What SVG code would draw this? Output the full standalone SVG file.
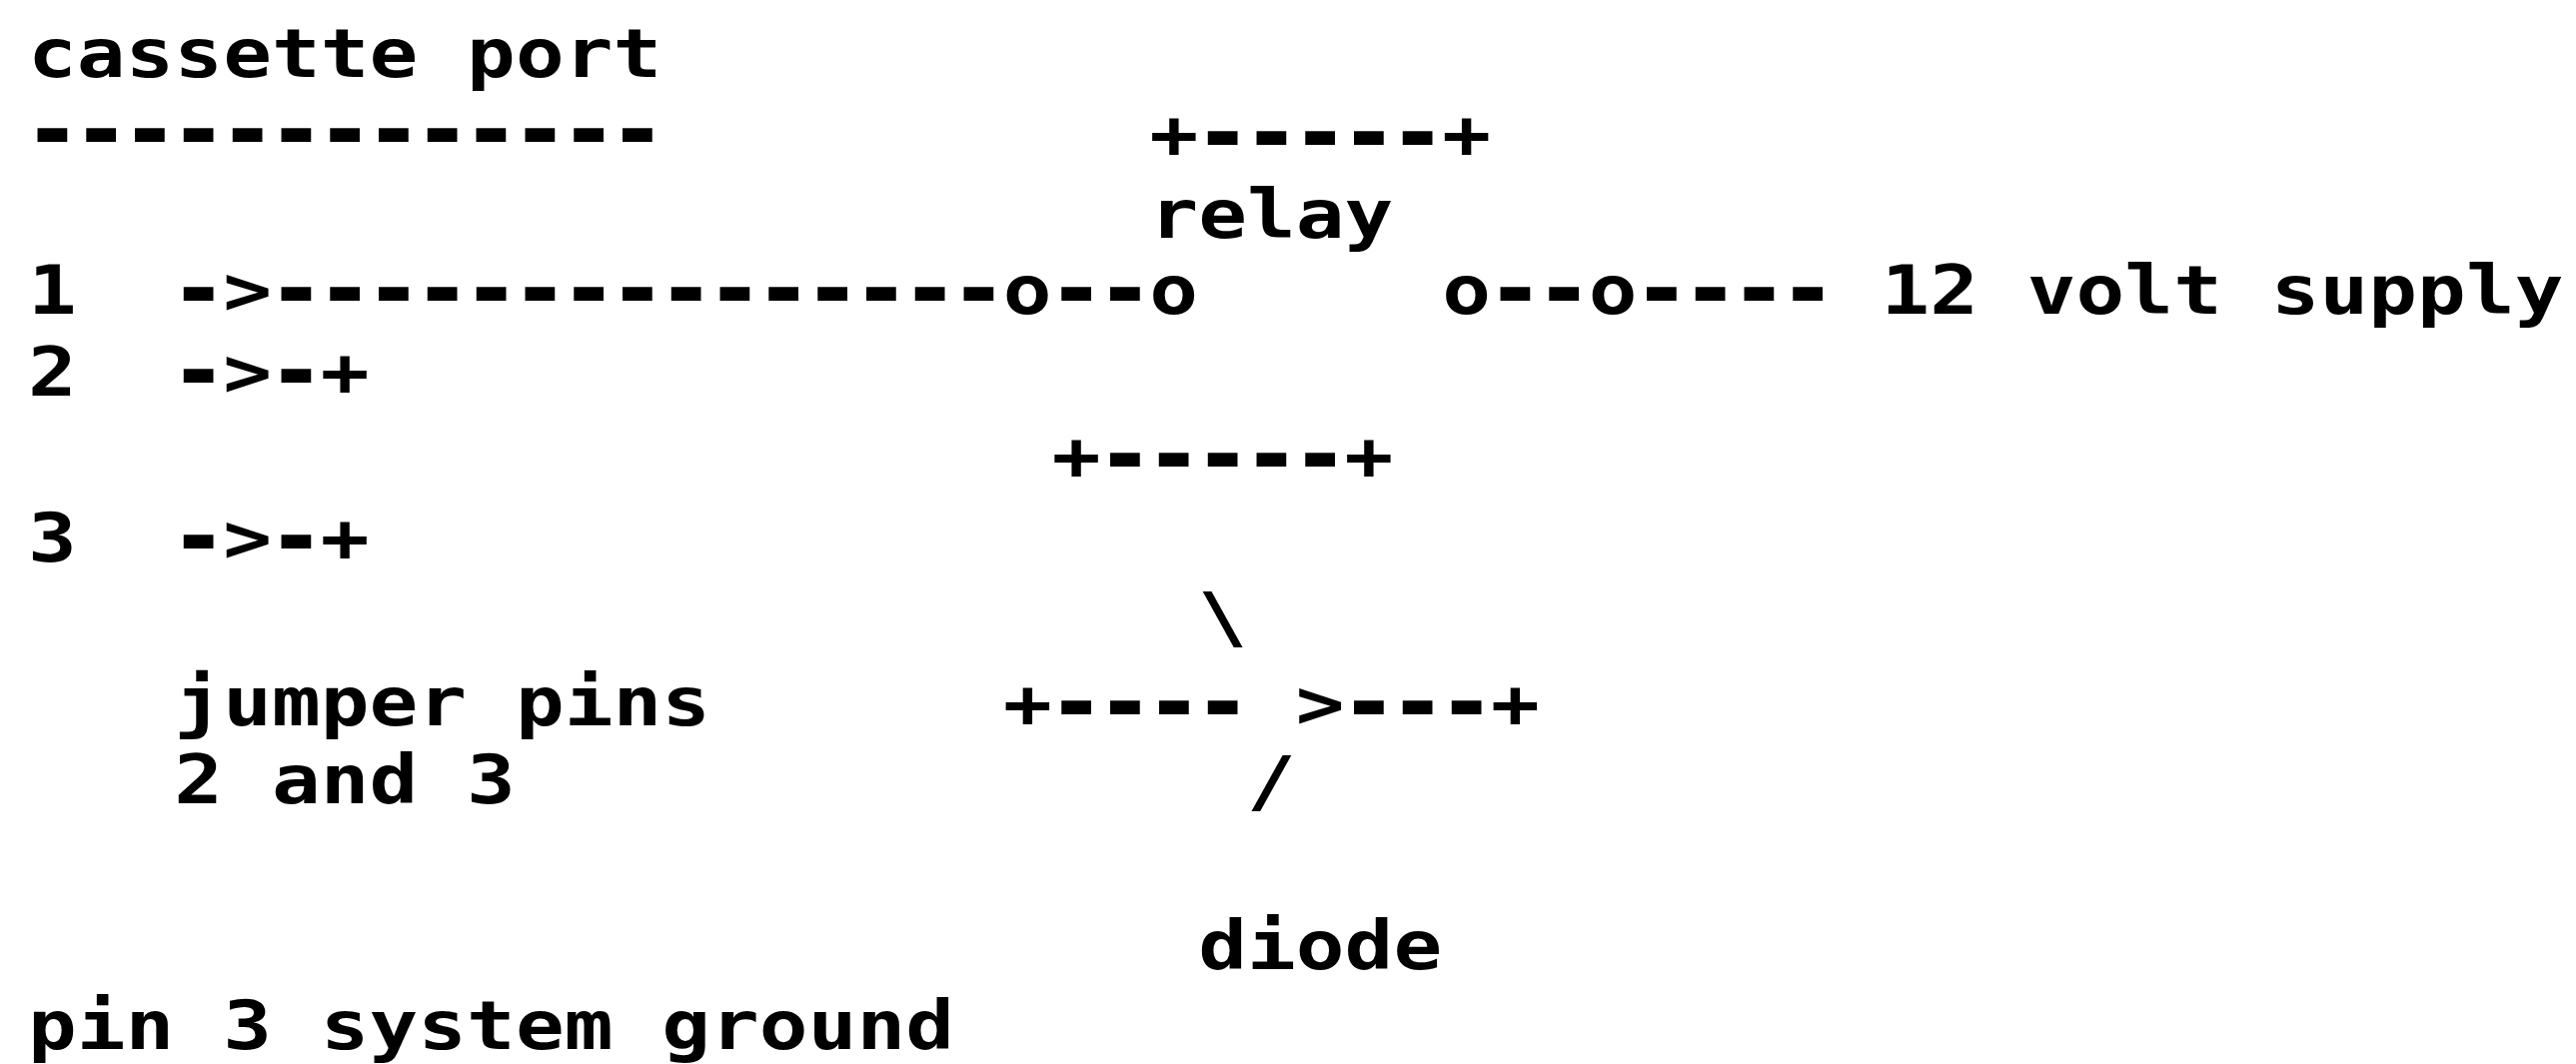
<svg xmlns="http://www.w3.org/2000/svg" width="2578" height="1065" viewBox="0 0 2578 1065">
<style>
text{font-family:"DejaVu Sans Mono","Liberation Mono",monospace;font-weight:700;font-size:68px;fill:#000;white-space:pre}
.d{stroke:#000;stroke-width:4px}
</style>
<rect width="2578" height="1065" fill="#fff"/>
<g transform="translate(28 0) scale(1.192 1)">
<g id="connectors">
<text x="0" y="155" class="d">-------------</text>
<text x="122.8" y="314"><tspan class="d">-</tspan>&gt;<tspan class="d">---------------</tspan>o<tspan class="d">--</tspan>o</text>
<text x="122.8" y="396"><tspan class="d">-</tspan>&gt;<tspan class="d">-</tspan>+</text>
<text x="122.8" y="562"><tspan class="d">-</tspan>&gt;<tspan class="d">-</tspan>+</text>
</g>
<g id="relay">
<text x="941.6" y="158">+<tspan class="d">-----</tspan>+</text>
<text x="941.6" y="238">relay</text>
<text x="859.7" y="480">+<tspan class="d">-----</tspan>+</text>
</g>
<g id="supply">
<text x="1187.3" y="314">o<tspan class="d">--</tspan>o<tspan class="d">----</tspan> 12 volt supply</text>
</g>
<g id="diode">
<text x="982.6" y="642">\</text>
<text x="818.8" y="728">+<tspan class="d">----</tspan> &gt;<tspan class="d">---</tspan>+</text>
<text x="1023.5" y="806">/</text>
<text x="982.6" y="970">diode</text>
</g>
<g id="port">
<text x="0" y="77">cassette port</text>
<text x="0" y="314">1</text>
<text x="0" y="396">2</text>
<text x="0" y="562">3</text>
<text x="122.8" y="726">jumper pins</text>
<text x="122.8" y="804">2 and 3</text>
<text x="0" y="1050">pin 3 system ground</text>
</g>
</g>
</svg>
